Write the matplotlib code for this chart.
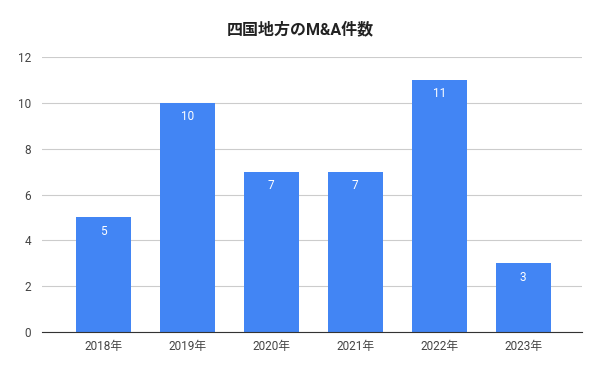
import matplotlib
matplotlib.use("Agg")
import matplotlib.pyplot as plt

plt.rcParams["font.family"] = ["Roboto", "Noto Sans CJK JP", "DejaVu Sans"]

years = ["2018年", "2019年", "2020年", "2021年", "2022年", "2023年"]
counts = [5, 10, 7, 7, 11, 3]
title = "四国地方のM&A件数"

bar_color = "#4285F4"

fig = plt.figure(figsize=(6, 3.71), dpi=100)
ax = fig.add_axes([0.07, 0.105, 0.9, 0.741])

x = range(len(years))
bars = ax.bar(x, counts, width=0.655, color=bar_color, zorder=2)

# value labels inside the top of each bar
for b, v in zip(bars, counts):
    ax.annotate(str(v), (b.get_x() + b.get_width() / 2, v),
                xytext=(0, -10), textcoords="offset points",
                ha="center", va="center", color="white", fontsize=8.5)

ax.set_xlim(-0.73, 5.70)
ax.set_ylim(0, 12)
ax.set_yticks(range(0, 13, 2))
ax.set_xticks(list(x))
ax.set_xticklabels(years)
ax.grid(axis="y", color="#cccccc", linewidth=0.8, zorder=0)
for s in ["top", "right", "left"]:
    ax.spines[s].set_visible(False)
ax.spines["bottom"].set_color("#333333")
ax.spines["bottom"].set_zorder(3)
ax.tick_params(length=0, labelsize=8.5, labelcolor="#444444")
ax.tick_params(axis="x", pad=6)
ax.tick_params(axis="y", pad=8)

fig.text(0.5, 0.922, title, ha="center", va="center",
         fontsize=11.5, fontweight="bold", color="#222222")

fig.savefig("out.png", dpi=100)
